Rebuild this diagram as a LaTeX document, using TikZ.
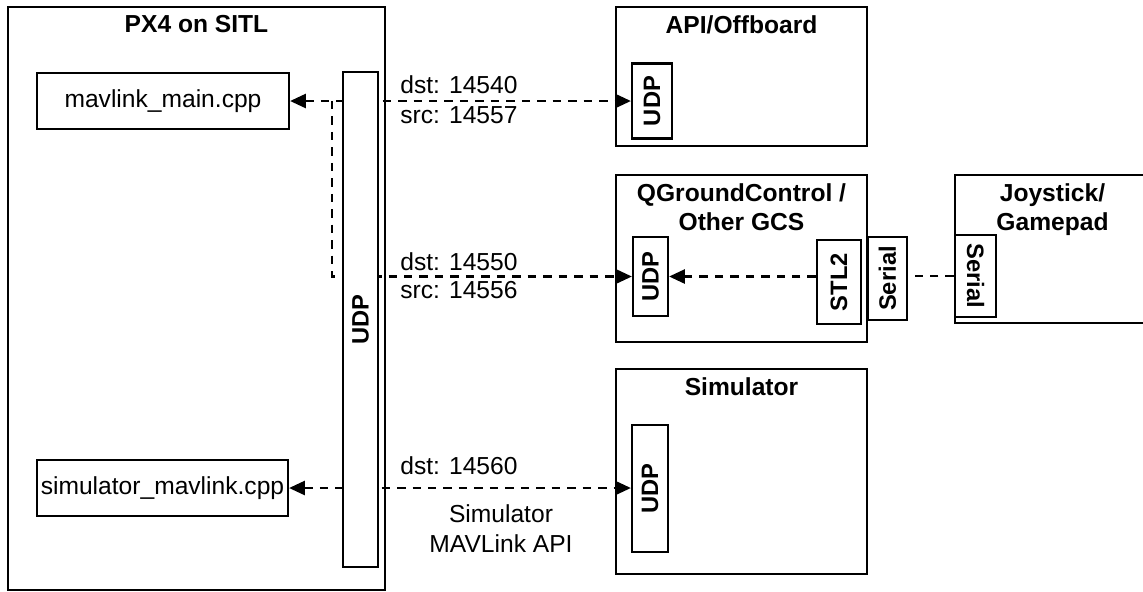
\documentclass[tikz,border=0pt]{standalone}
\usepackage{fontspec}
\setmainfont{Liberation Sans}
\usepackage{tikz}
\usetikzlibrary{arrows.meta, positioning, backgrounds}
\usepackage{xcolor}

\begin{document}
\begin{tikzpicture}[
    container/.style = {rectangle, draw, line width=1.25pt, inner sep=0pt},
    title/.style = {font=\bfseries\fontsize{14}{16.5}\selectfont, align=center, inner sep=2pt},
    filebox/.style = {rectangle, draw, fill=white, line width=1.25pt, font=\fontsize{14}{17}\selectfont, inner sep=1pt},
    port/.style = {rectangle, draw, fill=white, line width=1.25pt, font=\bfseries\fontsize{13.5}{16}\selectfont, inner sep=0pt},
    portlabel/.style = {font=\fontsize{14}{17}\selectfont, inner sep=0pt, anchor=west},
    link/.style = {draw, line width=1.4pt, dash pattern=on 4.8pt off 4pt},
    arrow/.style = {link, -{Triangle[length=9pt,width=8pt]}},
    biarrow/.style = {link, {Triangle[length=9pt,width=8pt]}-{Triangle[length=9pt,width=8pt]}}
]
\useasboundingbox (0,0) rectangle (22.86,-11.82);

% PX4 on SITL
\node (px4) [container, minimum width=7.54cm, minimum height=11.66cm, at={(3.93, -5.97)}] {};
\node (px4_title) [title, below=0.12cm of px4.north] {PX4 on SITL};
\node (mavlink_main) [filebox, minimum width=5.04cm, minimum height=1.12cm, at={(3.26, -2.02)}] {mavlink\_main.cpp};
\node (sim_mavlink) [filebox, minimum width=5.02cm, minimum height=1.12cm, at={(3.25, -9.76)}] {simulator\_mavlink.cpp};
\node (px4_udp) [port, minimum width=0.70cm, minimum height=9.90cm, at={(7.21, -6.39)}] {\rotatebox{90}{UDP}};
\coordinate [right=0.84cm of mavlink_main.east] (tap);

% API/Offboard
\node (api) [container, minimum width=5.02cm, minimum height=2.78cm, at={(14.83, -1.53)}] {};
\node (api_title) [title, below=0.12cm of api.north] {API/Offboard};
\node (api_udp) [port, minimum width=0.80cm, minimum height=1.50cm, at={(13.04, -2.02)}] {\rotatebox{90}{UDP}};

% QGroundControl
\node (qgc) [container, minimum width=5.02cm, minimum height=3.34cm, at={(14.83, -5.17)}] {};
\node (qgc_title) [title, below=0.12cm of qgc.north] {QGroundControl /\\Other GCS};
\node (qgc_udp) [port, minimum width=0.70cm, minimum height=1.58cm, at={(13.01, -5.53)}] {\rotatebox{90}{UDP}};
\node (stl2) [port, minimum width=0.88cm, minimum height=1.68cm, at={(16.78, -5.64)}] {\rotatebox{90}{STL2}};
\node (qgc_serial) [port, minimum width=0.78cm, minimum height=1.66cm, at={(17.75, -5.57)}] {\rotatebox{90}{Serial}};

% Joystick
\node (joy) [container, minimum width=3.90cm, minimum height=2.96cm, at={(21.05, -4.98)}] {};
\node (joy_title) [title, below=0.12cm of joy.north] {Joystick/\\Gamepad};
\node (joy_serial) [port, minimum width=0.82cm, minimum height=1.64cm, at={(19.51, -5.52)}] {\rotatebox{-90}{Serial}};

% Simulator
\node (sim) [container, minimum width=5.02cm, minimum height=4.10cm, at={(14.83, -9.43)}] {};
\node (sim_title) [title, below=0.12cm of sim.north] {Simulator};
\node (sim_udp) [port, minimum width=0.72cm, minimum height=2.54cm, at={(13.00, -9.77)}] {\rotatebox{90}{UDP}};

% Port labels
\node (lbl_dst1) [portlabel, at={(8.00, -1.70)}] {dst: 14540};
\node (lbl_src1) [portlabel, at={(8.00, -2.30)}] {src: 14557};
\node (lbl_dst2) [portlabel, at={(8.00, -5.24)}] {dst: 14550};
\node (lbl_src2) [portlabel, at={(8.00, -5.80)}] {src: 14556};
\node (lbl_dst3) [portlabel, at={(8.00, -9.32)}] {dst: 14560};
\node (lbl_simapi) [font=\fontsize{14}{17}\selectfont, align=center, inner sep=0pt, at={(10.02, -10.58)}] {Simulator\\MAVLink API};

% Connections
\begin{scope}[on background layer]
\draw [biarrow] (mavlink_main.east) -- (mavlink_main.east -| api_udp.west);
\draw [arrow] (tap) |- (qgc_udp.west);
\draw [arrow] (stl2.west |- qgc_udp.east) -- (qgc_udp.east);
\draw [link] (joy_serial.west) -- (joy_serial.west -| stl2.east);
\draw [biarrow] (sim_mavlink.east) -- (sim_mavlink.east -| sim_udp.west);
\end{scope}

\end{tikzpicture}
\end{document}
